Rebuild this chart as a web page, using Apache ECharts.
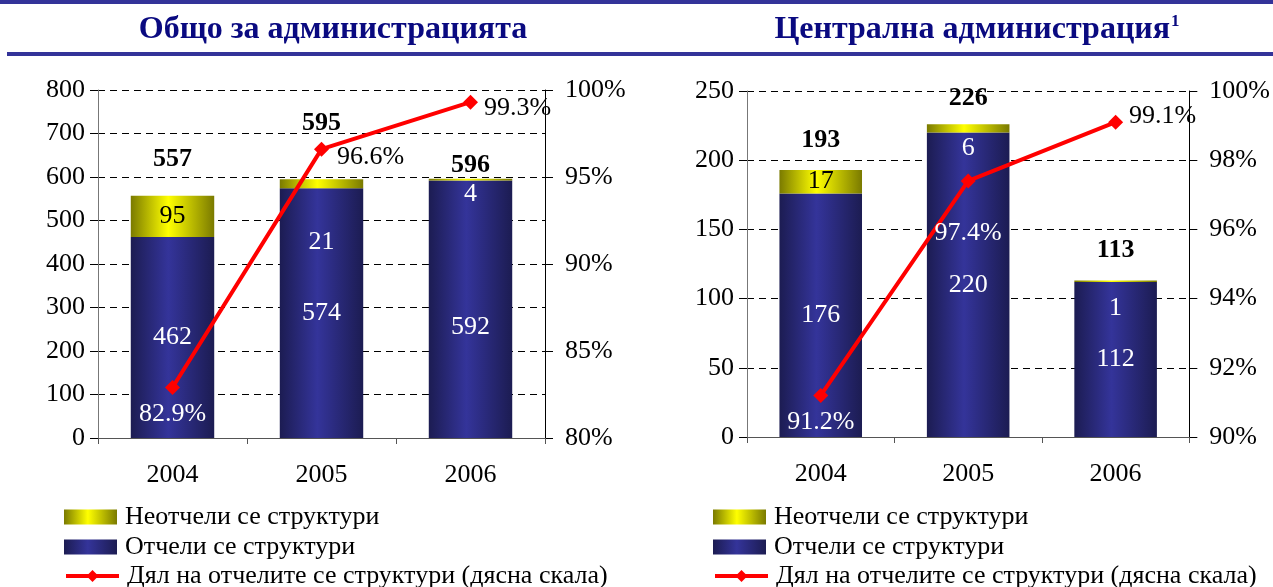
<!DOCTYPE html>
<html>
<head>
<meta charset="utf-8">
<script src="https://cdn.jsdelivr.net/npm/echarts@6/dist/echarts.min.js"></script>
<style>
  html, body { margin: 0; padding: 0; background: #fff; }
  #chart { width: 1273px; height: 587px; }
</style>
</head>
<body>
<div id="chart"></div>
<script>
  const years = ['2004', '2005', '2006'];

  // Общо за администрацията
  const allReported = [462, 574, 592];
  const allNotReported = [95, 21, 4];
  const allTotals = [557, 595, 596];
  const allShare = [82.9, 96.6, 99.3];

  // Централна администрация
  const centralReported = [176, 220, 112];
  const centralNotReported = [17, 6, 1];
  const centralTotals = [193, 226, 113];
  const centralShare = [91.2, 97.4, 99.1];

  // скали
  const allCountTicks = [0, 800, 100];
  const allShareTicks = [80, 100, 5];
  const centralCountTicks = [0, 250, 50];
  const centralShareTicks = [90, 100, 2];

  const NAME_NOT = 'Неотчели се структури';
  const NAME_REP = 'Отчели се структури';
  const NAME_SHARE = 'Дял на отчелите се структури (дясна скала)';

  const FONT = 'Liberation Serif';
  const FS = 26;
  const blueFill = new echarts.graphic.LinearGradient(0, 0, 1, 0, [
    { offset: 0, color: '#1c1c52' },
    { offset: 0.45, color: '#34349a' },
    { offset: 1, color: '#1c1c52' }
  ]);
  const yellowFill = new echarts.graphic.LinearGradient(0, 0, 1, 0, [
    { offset: 0, color: '#7a7a00' },
    { offset: 0.45, color: '#ffff00' },
    { offset: 1, color: '#7a7a00' }
  ]);

  // label tweaks (pixels), kept apart from the data
  const allRepShift = [0, 0, 18];
  const allNotShift = [0, 58, 15];
  const allNotColor = ['#000', '#fff', '#fff'];
  const allTotalShift = [-36, -56, -13];
  const allShareLabel = [
    { position: 'bottom', distance: 6, color: '#fff' },
    { position: 'right', distance: 8, offset: [0, 8], color: '#000' },
    { position: 'right', distance: 6, offset: [0, 6], color: '#000' }
  ];
  const centralRepShift = [0, 0, 0];
  const centralNotShift = [0, 20, 27];
  const centralNotColor = ['#000', '#fff', '#fff'];
  const centralTotalShift = [-30, -26, -30];
  const centralShareLabel = [
    { position: 'bottom', distance: 6, color: '#fff' },
    { position: 'bottom', distance: 32, color: '#fff' },
    { position: 'right', distance: 6, offset: [0, -6], color: '#000' }
  ];

  function axes(grid, count, share) {
    const x = {
      type: 'category', gridIndex: grid, data: years,
      axisLine: { lineStyle: { color: '#555', width: 1 } },
      axisTick: { show: true, length: 6, lineStyle: { color: '#555' } },
      axisLabel: { color: '#000', fontFamily: FONT, fontSize: FS, margin: 24 }
    };
    const yl = {
      type: 'value', gridIndex: grid, min: count[0], max: count[1], interval: count[2],
      axisLine: { show: true, lineStyle: { color: '#777' } },
      axisTick: { show: true, length: 8, lineStyle: { color: '#000' } },
      axisLabel: { color: '#000', fontFamily: FONT, fontSize: FS, margin: 13 },
      splitLine: { lineStyle: { color: '#000', type: [7, 5] } }
    };
    const yr = {
      type: 'value', gridIndex: grid, position: 'right',
      min: share[0], max: share[1], interval: share[2],
      axisLine: { show: true, lineStyle: { color: '#000' } },
      axisTick: { show: true, length: 8, lineStyle: { color: '#000' } },
      axisLabel: { color: '#000', fontFamily: FONT, fontSize: FS, margin: 20, formatter: '{value}%' },
      splitLine: { show: false }
    };
    return { x, y: [yl, yr] };
  }

  function seriesFor(idx, rep, not, totals, share, repShift, notShift, notColor, totShift, shareLbl) {
    const yBase = idx * 2;
    return [
      {
        name: NAME_REP, type: 'bar', stack: 's' + idx, xAxisIndex: idx, yAxisIndex: yBase,
        barWidth: '56%', itemStyle: { color: blueFill },
        label: { show: true, position: 'inside', color: '#fff', fontFamily: FONT, fontSize: FS },
        data: rep.map((v, i) => ({ value: v, label: { offset: [0, repShift[i]] } }))
      },
      {
        name: NAME_NOT, type: 'bar', stack: 's' + idx, xAxisIndex: idx, yAxisIndex: yBase,
        barWidth: '56%', itemStyle: { color: yellowFill },
        label: { show: true, position: 'inside', fontFamily: FONT, fontSize: FS },
        data: not.map((v, i) => ({ value: v, label: { color: notColor[i], offset: [0, notShift[i]] } }))
      },
      {
        name: 'total' + idx, type: 'scatter', xAxisIndex: idx, yAxisIndex: yBase,
        symbolSize: 1, itemStyle: { color: 'transparent', opacity: 1 }, silent: true,
        label: { show: true, position: 'inside', color: '#000', fontFamily: FONT, fontSize: FS, fontWeight: 'bold' },
        data: totals.map((v, i) => ({ value: v, label: { offset: [0, totShift[i]] } })),
        z: 5
      },
      {
        name: NAME_SHARE, type: 'line', xAxisIndex: idx, yAxisIndex: yBase + 1,
        symbol: 'diamond', symbolSize: 15,
        lineStyle: { color: '#ff0000', width: 4 }, itemStyle: { color: '#ff0000' },
        label: { show: true, fontFamily: FONT, fontSize: FS, formatter: p => p.value.toFixed(1) + '%' },
        data: share.map((v, i) => ({ value: v, label: shareLbl[i] })),
        z: 4
      }
    ];
  }

  const a0 = axes(0, allCountTicks, allShareTicks);
  const a1 = axes(1, centralCountTicks, centralShareTicks);

  // one legend per row, so the rows sit where the original has them
  const legendRows = [
    { name: NAME_NOT, top: 504, icon: 'rect' },
    { name: NAME_REP, top: 534, icon: 'rect' },
    { name: NAME_SHARE, top: 563, lineStyle: { width: 4 }, itemStyle: { borderWidth: 0 } }
  ];
  const legends = [];
  [64, 713].forEach(left => {
    legendRows.forEach(r => {
      const item = { name: r.name };
      if (r.icon) item.icon = r.icon;
      if (r.lineStyle) { item.lineStyle = r.lineStyle; item.itemStyle = r.itemStyle; }
      legends.push({
        left: left, top: r.top, padding: 0,
        itemWidth: 53, itemHeight: 15, selectedMode: false,
        data: [item],
        textStyle: { color: '#000', fontFamily: FONT, fontSize: FS, padding: [0, 0, 0, 3] }
      });
    });
  });

  const chart = echarts.init(document.getElementById('chart'));
  chart.setOption({
    animation: false,
    backgroundColor: '#fff',
    grid: [
      { left: 98, top: 90, width: 447, height: 348 },
      { left: 747, top: 91, width: 446, height: 346 }
    ],
    xAxis: [a0.x, a1.x],
    yAxis: [a0.y[0], a0.y[1], a1.y[0], a1.y[1]],
    legend: legends,
    graphic: [
      { type: 'rect', shape: { x: 0, y: 0, width: 1273, height: 4 }, style: { fill: '#333399' } },
      { type: 'rect', shape: { x: 7, y: 52, width: 1266, height: 4 }, style: { fill: '#333399' } },
      {
        type: 'text', x: 333, y: 30,
        style: { text: 'Общо за администрацията', align: 'center', verticalAlign: 'middle',
          fill: '#0a0a80', font: 'bold 32px "Liberation Serif"' }
      },
      {
        type: 'text', x: 977, y: 30,
        style: {
          text: '{m|Централна администрация}{s|1}', align: 'center', verticalAlign: 'middle',
          rich: {
            m: { fill: '#0a0a80', fontFamily: FONT, fontWeight: 'bold', fontSize: 32 },
            s: { fill: '#0a0a80', fontFamily: FONT, fontWeight: 'bold', fontSize: 17, verticalAlign: 'top', padding: [0, 0, 16, 1] }
          }
        }
      }
    ],
    series: seriesFor(0, allReported, allNotReported, allTotals, allShare,
        allRepShift, allNotShift, allNotColor, allTotalShift, allShareLabel)
      .concat(seriesFor(1, centralReported, centralNotReported, centralTotals, centralShare,
        centralRepShift, centralNotShift, centralNotColor, centralTotalShift, centralShareLabel))
  });
</script>
</body>
</html>
